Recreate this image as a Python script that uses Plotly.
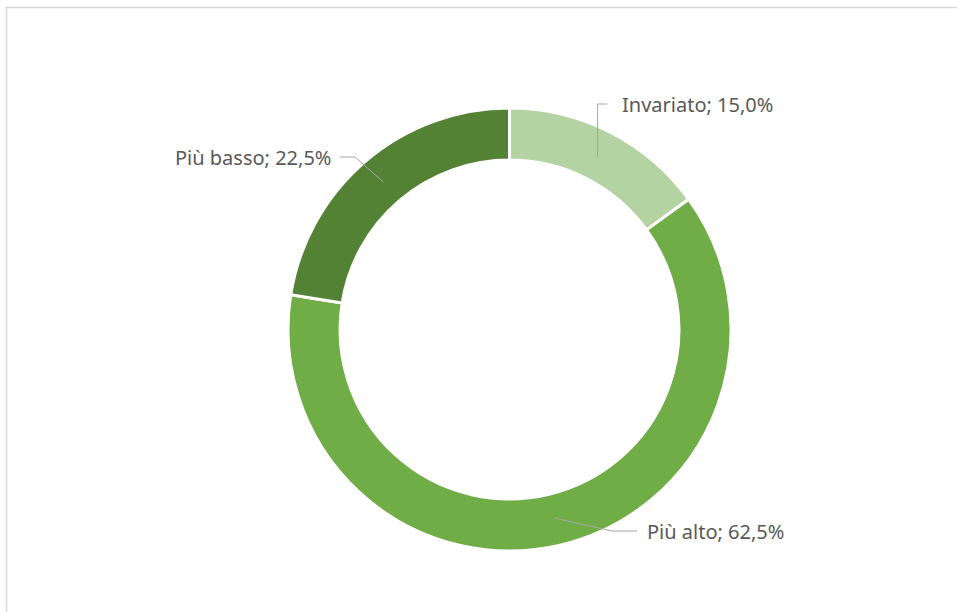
import math
import plotly.graph_objects as go

labels = ["Invariato", "Più alto", "Più basso"]
values = [15.0, 62.5, 22.5]
colors = ["#B4D3A2", "#70AD47", "#548235"]

W, H = 957, 612
cx, cy, R = 509.5, 329.5, 221.5


def px(x, y):
    return x / W, 1 - y / H


fig = go.Figure()
fig.add_trace(go.Pie(
    labels=labels, values=values, hole=0.765, sort=False,
    direction="clockwise", rotation=0,
    marker=dict(colors=colors, line=dict(color="white", width=3)),
    textinfo="none", showlegend=False,
    domain=dict(x=[(cx - R) / W, (cx + R) / W], y=[1 - (cy + R) / H, 1 - (cy - R) / H]),
))

# label layout: (elbow points after anchor, text position, anchor side)
label_layout = {
    "Invariato": dict(elbow=[("ax", 104), (607, 104)], text=(620, 104), side="left"),
    "Più alto": dict(elbow=[(612, 531), (637, 531)], text=(645, 531), side="left"),
    "Più basso": dict(elbow=[(355, 157), (340, 157)], text=(333, 157), side="right"),
}

total = sum(values)
cum = 0.0
r_anchor = 194
for lab, v in zip(labels, values):
    mid = (cum + v / 2) / total * 2 * math.pi
    cum += v
    ax = cx + r_anchor * math.sin(mid)
    ay = cy - r_anchor * math.cos(mid)
    L = label_layout[lab]
    pts = [(ax, ay)] + [((ax if p[0] == "ax" else p[0]), p[1]) for p in L["elbow"]]
    path = ""
    for i, (x, y) in enumerate(pts):
        X, Y = px(x, y)
        path += ("M" if i == 0 else " L") + f" {X} {Y}"
    fig.add_shape(type="path", path=path, xref="paper", yref="paper",
                  line=dict(color="#A6A6A6", width=1))
    tx, ty = px(*L["text"])
    txt = f"{lab}; {v:.1f}%".replace(".", ",")
    fig.add_annotation(x=tx, y=ty, xref="paper", yref="paper", text=txt,
                       showarrow=False, xanchor=L["side"], yanchor="middle",
                       font=dict(family="Noto Sans", size=20, color="#595959"))

# chart border
x0, y0 = px(6.5, 7.5)
x1, y1 = px(980, 640)
fig.add_shape(type="rect", xref="paper", yref="paper", x0=x0, y0=y0, x1=x1, y1=y1,
              line=dict(color="#D9D9D9", width=1.5))

fig.update_layout(width=W, height=H, margin=dict(l=0, r=0, t=0, b=0),
                  paper_bgcolor="white", plot_bgcolor="white")
fig.write_html("out.html", config={"displayModeBar": False},
               post_script="document.body.style.margin='0px';document.body.style.overflow='hidden';")
